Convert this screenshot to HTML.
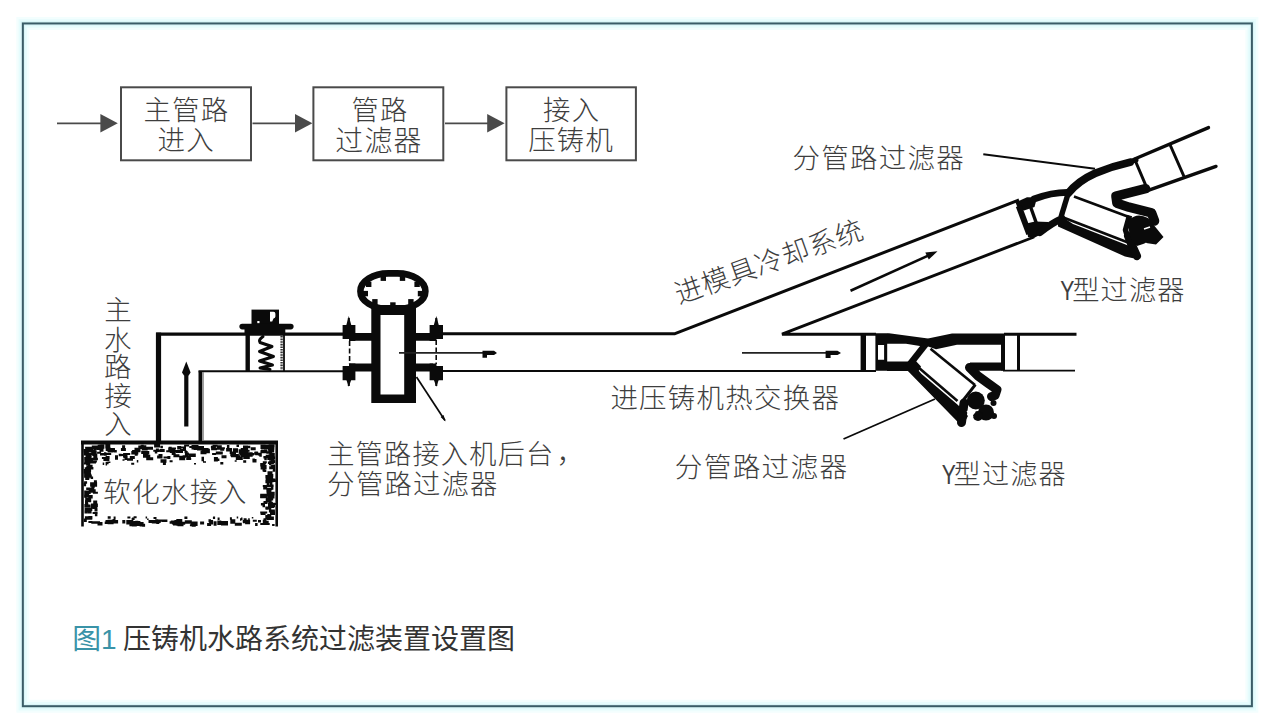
<!DOCTYPE html>
<html lang="zh"><head><meta charset="utf-8"><title>图1 压铸机水路系统过滤装置设置图</title>
<style>
html,body{margin:0;padding:0;background:#fff}
body{width:1280px;height:724px;overflow:hidden;position:relative;font-family:"Liberation Sans","Noto Sans CJK SC",sans-serif}
svg{position:absolute;left:0;top:0;display:block}
svg text{font-family:"Liberation Sans","Noto Sans CJK SC",sans-serif}
.lb{fill:#3e3e3e;font-weight:300}
</style></head><body>
<svg width="1280" height="724" viewBox="0 0 1280 724">
<rect width="1280" height="724" fill="#fff"/>
<rect x="22.85" y="23.45" width="1229.05" height="682.75" fill="none" stroke="#f3fefe" stroke-width="13"/>
<rect x="22.85" y="23.45" width="1229.05" height="682.75" fill="none" stroke="#e6fcfd" stroke-width="8.5"/>
<rect x="22.85" y="23.45" width="1229.05" height="682.75" fill="none" stroke="#d9f5f7" stroke-width="4.5"/>
<rect x="22.85" y="23.45" width="1229.05" height="682.75" fill="none" stroke="#3a5c67" stroke-width="2"/>
<rect x="121" y="87.3" width="130.0" height="73" fill="none" stroke="#4a4a4a" stroke-width="2"/>
<rect x="313.4" y="87.3" width="129.9" height="73" fill="none" stroke="#4a4a4a" stroke-width="2"/>
<rect x="506.4" y="87.3" width="129.5" height="73" fill="none" stroke="#4a4a4a" stroke-width="2"/>
<path d="M57 123.3H103.8" stroke="#4a4a4a" stroke-width="1.8" fill="none"/>
<path d="M117.8 123.3L100.4 114V132.6Z" fill="#4a4a4a"/>
<path d="M252.5 123.3H298.4" stroke="#4a4a4a" stroke-width="1.8" fill="none"/>
<path d="M312.4 123.3L295.0 114V132.6Z" fill="#4a4a4a"/>
<path d="M445 123.3H490.6" stroke="#4a4a4a" stroke-width="1.8" fill="none"/>
<path d="M504.6 123.3L487.20000000000005 114V132.6Z" fill="#4a4a4a"/>
<path d="M81 442.5H278" stroke="#0a0a0a" stroke-width="4" fill="none"/>
<path d="M82.5 441V526.5M276.7 441V526.5" stroke="#0a0a0a" stroke-width="2.6" fill="none"/>
<path d="M243.4 449.9h5v4.5h-5zM243.0 445.4h5v4.5h-5zM200.5 450.7h6v3.5h-6zM141.2 444.8h2.5v3.5h-2.5zM193.6 448.0h7v2h-7zM204.9 448.7h5v4.5h-5zM95.0 445.9h6v2h-6zM89.7 447.5h3v4.5h-3zM240.7 447.9h5v4.5h-5zM176.0 450.0h7v3h-7zM159.7 449.0h5v3h-5zM143.4 446.1h2.5v3h-2.5zM97.1 451.7h4v2h-4zM241.5 447.9h5v2h-5zM124.2 453.3h2.5v2h-2.5zM154.8 450.0h2.5v3.5h-2.5zM189.3 446.0h5v2h-5zM146.0 446.8h7v3h-7zM226.9 445.0h2.5v3.5h-2.5zM86.1 448.6h3v2h-3zM210.9 445.8h5v2.5h-5zM266.3 451.3h6v2.5h-6zM105.7 447.6h5v3.5h-5zM134.7 453.7h3v2h-3zM268.6 444.2h6v3h-6zM271.2 449.1h3v3.5h-3zM91.8 445.5h6v2h-6zM85.8 449.5h5v3h-5zM97.7 444.8h4v3.5h-4zM86.9 447.5h6v2.5h-6zM107.5 449.0h6v3.5h-6zM244.3 445.7h6v2.5h-6zM254.8 451.4h3v3h-3zM113.8 450.0h3v2.5h-3zM211.1 447.7h6v2.5h-6zM98.6 444.4h5v4.5h-5zM180.6 446.6h2.5v2h-2.5zM131.3 451.0h7v3.5h-7zM138.3 445.5h6v3.5h-6zM107.3 448.8h7v2h-7zM197.0 446.1h7v4.5h-7zM97.0 448.1h3v2h-3zM92.8 446.8h3v2h-3zM264.0 444.7h6v4.5h-6zM268.3 449.6h3v3.5h-3zM191.5 445.1h7v4.5h-7zM173.5 447.6h2.5v2h-2.5zM88.0 450.4h4v2h-4zM219.9 447.2h5v2h-5zM169.4 447.7h2.5v2h-2.5zM233.5 452.7h2.5v2.5h-2.5zM212.1 453.0h4v2h-4zM244.6 449.7h5v2h-5zM154.1 444.1h6v3.5h-6zM101.1 445.2h2.5v2h-2.5zM220.2 447.3h4v3.5h-4zM168.2 447.5h7v4.5h-7zM180.0 449.1h6v2h-6zM100.4 444.2h4v4.5h-4zM175.5 450.1h7v2h-7zM250.7 447.3h5v3h-5zM122.1 445.3h3v4.5h-3zM177.2 446.1h4v3.5h-4zM120.9 447.9h5v3h-5zM156.3 449.5h3v2.5h-3zM109.5 448.7h4v2.5h-4zM263.1 446.8h2.5v2h-2.5zM168.7 446.8h3v2h-3zM155.9 448.4h3v3.5h-3zM215.8 451.6h7v3h-7zM143.3 451.0h6v3.5h-6zM91.8 449.3h4v4.5h-4zM141.2 451.1h6v3h-6zM160.4 445.8h2.5v2.5h-2.5zM229.7 451.6h4v2.5h-4zM166.2 450.3h7v2h-7zM260.4 450.2h7v3h-7zM132.1 450.1h3v3.5h-3zM216.8 445.3h5v4.5h-5zM184.9 452.5h4v3h-4zM268.4 445.2h6v4.5h-6zM100.0 452.9h7v2.5h-7zM107.9 447.9h7v3.5h-7zM153.3 449.7h7v2h-7zM169.8 449.9h6v3h-6zM219.7 452.2h3v2h-3zM123.2 453.0h7v2h-7zM185.2 451.1h2.5v3h-2.5zM254.2 451.7h4v3h-4zM99.5 447.3h4v4.5h-4zM226.1 448.1h6v3.5h-6zM236.5 444.6h2.5v2.5h-2.5zM184.5 450.5h2.5v2.5h-2.5zM112.0 448.4h3v3.5h-3zM238.6 449.2h7v4.5h-7zM260.5 444.6h5v4.5h-5zM183.0 446.5h3v3.5h-3zM201.6 447.9h7v4.5h-7zM141.7 447.4h6v3h-6zM140.3 445.3h6v2.5h-6zM134.5 447.7h6v4.5h-6zM105.3 444.0h5v4.5h-5zM184.1 444.4h5v2h-5zM233.0 448.2h5v4.5h-5zM212.5 444.7h5v2h-5zM160.5 459.2h6v3.5h-6zM129.8 455.9h5v3h-5zM252.5 459.0h4v3.5h-4zM143.0 453.2h5v4.5h-5zM255.2 453.2h6v2h-6zM120.6 454.0h2.5v2h-2.5zM143.3 454.8h7v3h-7zM103.4 457.5h6v3.5h-6zM201.5 456.7h2.5v4.5h-2.5zM245.7 452.2h7v4.5h-7zM235.8 456.6h7v3.5h-7zM243.8 456.5h6v2.5h-6zM124.6 455.5h3v4.5h-3zM127.0 458.3h6v2.5h-6zM143.1 454.7h4v2.5h-4zM230.3 453.7h3v2.5h-3zM251.6 453.1h2.5v2.5h-2.5zM157.1 455.5h2.5v3h-2.5zM230.9 452.8h5v4.5h-5zM101.9 457.1h5v2h-5zM105.6 456.0h4v3h-4zM270.7 457.4h4v4.5h-4zM104.0 452.3h2.5v3.5h-2.5zM179.2 455.7h6v4.5h-6zM118.7 453.7h3v2.5h-3zM258.3 452.8h3v3h-3zM263.4 455.9h2.5v2.5h-2.5zM157.7 455.4h2.5v3h-2.5zM123.3 454.8h4v3.5h-4zM239.3 453.6h7v2h-7zM221.5 455.2h5v3h-5zM115.0 455.3h3v4.5h-3zM252.4 458.4h2.5v3h-2.5zM188.8 453.4h7v3.5h-7zM232.9 454.1h6v3h-6zM237.6 455.4h2.5v2.5h-2.5zM213.9 457.0h4v4.5h-4zM122.9 453.4h3v3.5h-3zM171.7 452.1h4v3h-4zM93.3 453.8h4v4.5h-4zM146.2 457.3h7v3h-7zM182.6 455.3h6v2.5h-6zM214.4 458.5h5v2.5h-5zM105.2 453.0h6v2h-6zM167.4 456.0h3v3h-3zM86.0 453.9h3v3.5h-3zM186.9 456.1h4v3h-4zM240.6 452.6h6v4.5h-6zM186.2 458.0h5v2h-5zM259.3 453.2h2.5v3.5h-2.5zM243.2 456.6h5v2.5h-5zM163.5 456.5h6v2h-6zM158.5 454.0h4v4.5h-4zM173.4 454.2h6v3h-6zM89.0 458.2h4v3h-4zM203.0 461.2h3v1.5h-3zM93.9 460.6h3v2h-3zM194.0 463.0h2v1.5h-2zM234.7 460.2h2v1.5h-2zM131.2 462.8h3v2h-3zM102.7 462.6h1.5v2.5h-1.5zM269.0 463.5h2v1.5h-2zM105.6 461.8h3v2.5h-3zM122.5 459.3h2v1.5h-2zM107.4 461.4h3v1.5h-3zM169.6 460.3h3v2h-3zM162.9 462.5h3v2.5h-3zM263.1 463.0h3v1.5h-3zM105.6 463.5h1.5v2h-1.5zM243.2 460.2h3v2.5h-3zM220.3 462.1h3v2.5h-3zM136.8 460.1h1.5v2.5h-1.5zM269.7 463.1h1.5v2.5h-1.5zM85.1 446.7h7v2h-7zM83.6 448.9h4v3.5h-4zM85.3 503.1h3v4.5h-3zM84.9 494.9h7v2.5h-7zM86.1 462.1h4v3.5h-4zM87.6 510.1h4v3.5h-4zM86.6 510.1h2.5v2h-2.5zM86.3 465.7h3v3.5h-3zM84.5 510.4h3v3h-3zM84.5 504.4h6v3h-6zM87.7 490.4h3v3.5h-3zM83.9 452.4h5v3h-5zM85.2 497.7h6v4.5h-6zM83.9 462.6h4v2h-4zM83.7 468.9h7v4.5h-7zM84.2 457.0h7v3h-7zM85.5 455.0h4v3h-4zM84.9 516.3h7v3.5h-7zM84.6 507.8h7v3h-7zM85.2 476.6h4v3.5h-4zM84.1 473.3h7v4.5h-7zM85.5 476.9h4v2h-4zM86.8 474.5h5v2.5h-5zM84.2 490.6h5v4.5h-5zM84.1 481.2h3v2.5h-3zM84.7 450.5h4v2h-4zM85.4 447.7h3v4.5h-3zM86.1 469.8h5v2h-5zM84.7 467.3h6v2h-6zM84.1 494.8h2.5v3h-2.5zM88.3 496.6h3v2h-3zM86.7 516.3h3v2.5h-3zM85.7 471.8h4v3.5h-4zM86.2 487.6h4v2.5h-4zM85.3 517.4h7v2h-7zM87.3 508.1h5v3h-5zM90.2 495.0h2.5v3.5h-2.5zM86.0 507.8h6v3h-6zM87.6 464.8h5v3.5h-5zM87.9 470.5h3v3.5h-3zM85.9 467.0h5v3.5h-5zM85.7 454.8h2.5v3.5h-2.5zM85.4 459.9h7v2.5h-7zM83.6 482.8h2.5v3.5h-2.5zM84.3 460.2h2.5v3h-2.5zM85.0 500.2h3v4.5h-3zM84.3 460.0h6v4.5h-6zM84.4 503.9h4v3.5h-4zM88.7 487.6h4v4.5h-4zM88.4 515.9h4v3.5h-4zM87.7 453.0h4v4.5h-4zM83.8 518.5h3v3.5h-3zM92.4 504.4h5v4.5h-5zM94.9 513.7h2.5v2.5h-2.5zM93.2 500.6h4v3.5h-4zM90.8 505.8h6v2.5h-6zM94.5 508.4h3v3h-3zM91.3 486.4h3v4.5h-3zM93.9 446.1h3v4.5h-3zM90.4 466.9h3v2.5h-3zM90.1 482.2h7v4.5h-7zM92.9 491.8h5v2h-5zM90.0 460.5h6v3h-6zM93.9 480.3h3v2h-3zM92.3 483.3h2.5v4.5h-2.5zM91.2 451.9h4v3h-4zM92.7 451.1h4v3.5h-4zM90.6 476.6h2.5v2.5h-2.5zM92.0 447.0h5v2h-5zM90.7 489.2h5v3.5h-5zM92.6 511.9h5v2h-5zM90.9 457.8h7v2.5h-7zM90.9 503.4h7v3.5h-7zM92.2 452.6h4v3.5h-4zM268.0 454.5h3v2.5h-3zM268.9 501.7h4v3h-4zM270.8 453.1h4v3.5h-4zM265.8 497.2h3v4.5h-3zM265.7 477.2h7v2.5h-7zM269.2 453.6h5v4.5h-5zM273.4 479.6h2.5v2.5h-2.5zM272.8 478.9h2.5v3h-2.5zM268.2 505.4h6v2.5h-6zM266.9 516.5h7v3.5h-7zM268.6 493.8h6v2h-6zM269.6 493.2h4v2.5h-4zM267.8 472.4h2.5v3h-2.5zM265.4 474.9h7v3.5h-7zM268.9 509.5h6v3h-6zM266.3 487.8h6v2.5h-6zM266.6 492.2h4v4.5h-4zM267.9 461.4h6v2.5h-6zM267.8 448.1h6v2.5h-6zM268.1 456.6h7v2.5h-7zM267.5 471.2h5v4.5h-5zM267.3 514.0h2.5v3h-2.5zM266.4 490.1h5v2.5h-5zM265.3 515.1h6v4.5h-6zM269.8 455.4h3v3h-3zM270.8 474.0h2.5v3h-2.5zM269.2 460.3h6v3h-6zM267.3 477.5h6v2h-6zM266.2 498.0h7v2.5h-7zM267.5 495.0h7v3.5h-7zM266.7 482.3h2.5v2.5h-2.5zM268.1 489.0h3v4.5h-3zM269.2 466.3h3v3h-3zM265.3 506.4h6v3h-6zM266.6 484.6h7v2.5h-7zM267.9 514.6h2.5v3.5h-2.5zM268.0 502.8h7v4.5h-7zM270.0 511.4h5v3.5h-5zM265.7 454.8h5v3.5h-5zM267.6 479.3h6v3h-6zM272.7 468.8h2.5v3h-2.5zM268.7 491.7h6v3.5h-6zM271.1 464.4h4v4.5h-4zM268.0 476.7h5v2.5h-5zM270.9 486.3h2.5v3.5h-2.5zM267.5 475.9h3v4.5h-3zM273.0 503.0h3v2h-3zM268.5 478.4h7v3h-7zM270.2 478.7h3v2.5h-3zM265.8 507.8h2.5v2h-2.5zM269.9 480.2h2.5v4.5h-2.5zM270.1 447.9h4v2.5h-4zM268.5 481.1h3v2h-3zM265.7 499.0h6v3.5h-6zM267.4 481.5h3v2h-3zM267.3 457.0h4v3h-4zM260.6 512.6h5v2.5h-5zM260.2 511.4h7v2h-7zM260.1 494.6h4v3.5h-4zM260.2 493.7h7v4.5h-7zM263.3 469.9h3v2h-3zM263.5 500.9h4v3h-4zM263.5 518.2h3v3h-3zM260.2 463.1h5v3.5h-5zM262.8 461.3h4v2h-4zM262.5 468.9h3v2.5h-3zM263.2 486.4h4v3h-4zM262.8 519.8h2.5v4.5h-2.5zM261.4 495.6h3v2.5h-3zM265.4 479.7h2.5v3.5h-2.5zM261.1 449.5h6v2h-6zM260.6 464.9h6v4.5h-6zM260.3 523.1h6v2h-6zM260.9 502.9h3v2.5h-3zM264.3 457.7h2.5v2.5h-2.5zM262.5 502.7h2.5v4.5h-2.5zM262.8 485.0h5v2h-5zM262.8 496.3h3v2h-3zM207.1 522.9h4v3h-4zM177.5 523.2h6v3h-6zM221.0 520.9h7v4.5h-7zM104.7 521.4h6v2.5h-6zM184.8 520.2h7v3.5h-7zM131.8 522.0h7v2.5h-7zM176.3 519.1h6v4.5h-6zM189.9 524.2h6v2h-6zM112.5 519.1h3v3h-3zM177.7 522.3h5v3.5h-5zM105.5 520.1h2.5v2h-2.5zM190.6 521.5h7v4.5h-7zM94.0 521.3h6v2.5h-6zM234.8 522.7h7v3h-7zM177.2 521.3h4v4.5h-4zM154.1 520.4h6v2.5h-6zM230.3 519.2h5v4.5h-5zM151.8 520.0h5v3.5h-5zM176.3 523.2h2.5v2.5h-2.5zM224.0 521.9h3v2.5h-3zM129.4 524.3h2.5v2h-2.5zM157.9 520.8h3v2h-3zM264.7 523.1h5v2h-5zM126.3 519.9h7v4.5h-7zM161.4 519.5h6v2.5h-6zM142.1 523.7h3v3h-3zM91.3 521.2h6v2.5h-6zM219.7 522.4h7v2h-7zM169.6 521.2h6v2.5h-6zM155.2 519.2h3v3.5h-3zM129.8 523.0h5v3h-5zM122.3 520.0h3v3.5h-3zM171.9 521.5h5v3h-5zM242.7 520.1h7v2.5h-7zM97.5 522.1h5v3.5h-5zM200.1 521.6h4v3h-4zM178.2 521.8h7v3h-7zM133.4 521.0h7v2.5h-7zM109.8 520.2h3v3h-3zM272.1 524.0h2.5v2h-2.5zM242.9 521.3h5v2h-5zM209.1 520.1h4v4.5h-4zM174.4 520.0h6v2.5h-6zM107.6 519.7h6v4.5h-6zM173.0 522.1h5v3.5h-5zM132.2 521.5h6v4.5h-6zM111.1 519.9h7v3.5h-7zM217.3 520.4h4v4.5h-4zM245.1 519.8h5v4.5h-5zM148.5 520.1h4v3h-4zM224.8 521.9h2.5v2h-2.5zM208.5 519.3h2.5v3h-2.5zM213.6 521.3h3v4.5h-3zM230.5 520.4h4v2.5h-4zM157.0 519.4h5v2h-5zM136.9 522.5h5v3h-5zM258.0 520.1h3v2.5h-3zM209.1 520.2h3v3h-3zM255.1 523.0h2.5v3h-2.5zM131.8 522.0h5v4.5h-5zM252.8 519.7h4v2h-4zM135.3 520.7h2.5v3.5h-2.5zM170.8 520.6h6v3h-6zM88.4 521.1h4v2h-4zM139.6 521.9h4v4.5h-4zM156.3 520.5h3v3.5h-3zM191.7 524.7h4v2h-4zM201.0 521.5h2.5v2h-2.5zM135.4 524.0h5v2h-5zM263.7 520.7h5v3.5h-5zM135.3 520.7h3v4.5h-3zM111.9 520.2h5v2h-5zM212.9 516.7h1.5v2h-1.5zM269.7 516.0h1.5v2.5h-1.5zM243.6 518.3h3v2h-3zM240.0 518.2h1.5v2.5h-1.5zM133.6 516.3h3v2h-3zM236.7 516.6h1.5v2h-1.5zM113.6 516.5h2v2.5h-2zM147.1 518.4h1.5v1.5h-1.5zM153.5 516.9h3v2h-3zM184.4 516.6h3v2.5h-3zM145.6 516.5h1.5v2h-1.5zM107.7 516.2h3v2.5h-3zM251.8 517.1h1.5v1.5h-1.5zM229.9 517.2h2v2.5h-2zM248.2 518.2h1.5v2.5h-1.5zM132.1 517.5h1.5v2h-1.5zM131.6 517.9h3v2h-3zM213.1 516.5h2v2.5h-2zM241.0 517.4h1.5v2.5h-1.5zM217.6 517.6h2v2.5h-2zM107.7 517.3h2v1.5h-2zM127.4 516.6h3v2h-3z" fill="#0a0a0a"/>
<path d="M158.5 441V332.6" stroke="#0a0a0a" stroke-width="5.2" fill="none"/>
<path d="M156.1 334.1H349" stroke="#0a0a0a" stroke-width="3.1" fill="none"/>
<path d="M200.3 441V371.3" stroke="#0a0a0a" stroke-width="3.6" fill="none"/>
<path d="M198.5 371.3H349" stroke="#0a0a0a" stroke-width="2" fill="none"/>
<path d="M203 372V441" stroke="#777" stroke-width="1.4" fill="none"/>
<path d="M186.3 426.5V370" stroke="#0a0a0a" stroke-width="4.2" fill="none"/>
<path d="M186.3 361.5L190.6 372.5L188.6 375.5H184L182 372.5Z" fill="#0a0a0a"/>
<path d="M251.5 309.6H279V324H251.5Z" fill="#0a0a0a"/>
<path d="M270 311.8H273.5Q275.4 311.8 275.4 313.8V316.5Q275.4 318 273.5 318.5L272.2 321.5H270Z" fill="#fff"/>
<rect x="257.3" y="321" width="2.2" height="2.2" fill="#fff"/>
<rect x="239.4" y="323.8" width="54.2" height="5.6" rx="2.8" fill="#0a0a0a"/>
<rect x="244.5" y="328" width="40.8" height="5" fill="#0a0a0a"/>
<path d="M247.7 329V371" stroke="#0a0a0a" stroke-width="4.4" fill="none"/>
<path d="M284 333V371" stroke="#0a0a0a" stroke-width="1.8" fill="none"/>
<path d="M281.6 336V370" stroke="#333" stroke-width="2.4" stroke-dasharray="1.6 1" fill="none"/>
<path d="M263 336.5Q258 340 260 342.5L272 346.5L259.5 351.5L273.5 356.5L259.5 361L272.5 365L260 368L270 369.5" stroke="#0a0a0a" stroke-width="3" fill="none" stroke-linejoin="round" stroke-linecap="round"/>
<rect x="360.4" y="273.4" width="65" height="35.6" rx="28" ry="17.8" fill="none" stroke="#0a0a0a" stroke-width="6.6"/>
<rect x="417.8" y="290.9" width="5.4" height="5.4" fill="#0a0a0a"/><rect x="408.2" y="299.1" width="5.4" height="5.4" fill="#0a0a0a"/><rect x="390.2" y="302.3" width="5.4" height="5.4" fill="#0a0a0a"/><rect x="372.2" y="299.1" width="5.4" height="5.4" fill="#0a0a0a"/><rect x="362.6" y="290.9" width="5.4" height="5.4" fill="#0a0a0a"/><rect x="366.0" y="281.6" width="5.4" height="5.4" fill="#0a0a0a"/><rect x="380.6" y="275.5" width="5.4" height="5.4" fill="#0a0a0a"/><rect x="399.8" y="275.5" width="5.4" height="5.4" fill="#0a0a0a"/><rect x="414.4" y="281.6" width="5.4" height="5.4" fill="#0a0a0a"/>
<path d="M371.3 305H416V403H371.3Z M380.5 315H404.2V394.6H380.5Z" fill="#0a0a0a" fill-rule="evenodd"/>
<path d="M350 333H372V340.7H350Z M350 363.5H372V371.6H350Z M415 333H433V340.7H415Z M415 363.5H433V371.6H415Z" fill="#0a0a0a"/>
<path d="M342.6 325H355.4V341H349V339H342.6Z M342.6 380.3H355.4V363.5H349V366H342.6Z" fill="#0a0a0a"/>
<path d="M348.8 316L351.4 325.5H346.2Z M348.8 386.8L351.4 379.5H346.2Z" fill="#0a0a0a"/>
<path d="M348.8 318V326M348.8 379V386" stroke="#0a0a0a" stroke-width="2" fill="none"/>
<path d="M349.6 341V364" stroke="#0a0a0a" stroke-width="1.6" stroke-dasharray="5 2.5" fill="none"/>
<path d="M443 325H429.6V341H436.5V339H443Z M443 380.3H429.6V363.5H436.5V366H443Z" fill="#0a0a0a"/>
<path d="M436.3 316L438.9 325.5H433.7Z M436.3 386.8L438.9 379.5H433.7Z" fill="#0a0a0a"/>
<path d="M436.3 318V326M436.3 379V386" stroke="#0a0a0a" stroke-width="2" fill="none"/>
<path d="M436.2 340V364" stroke="#0a0a0a" stroke-width="1.6" stroke-dasharray="5 2.5" fill="none"/>
<path d="M416.5 377L445 420.5" stroke="#0a0a0a" stroke-width="1.7" fill="none"/>
<path d="M445.6 421.5L440.6 417L443.6 415Z" fill="#0a0a0a"/>
<path d="M442 333.7H675L1019 200" stroke="#0a0a0a" stroke-width="3" fill="none" stroke-linejoin="round"/>
<path d="M442 371H876M1003 370.6H1075" stroke="#0a0a0a" stroke-width="1.8" fill="none"/>
<path d="M399 352.9H490" stroke="#222" stroke-width="1.8" fill="none"/>
<path d="M482.5 350.7H494L497 352.9L494 355H487V357.8H482.5Z" fill="#0a0a0a"/>
<path d="M1034 237L782 334.2H876M1004 334.2H1076.5" stroke="#0a0a0a" stroke-width="2.9" fill="none" stroke-linejoin="miter"/>
<path d="M742 352.9H834" stroke="#222" stroke-width="1.8" fill="none"/>
<path d="M825.6 350.7H837.5L841 352.9L837.5 355H830.6V358H825.6Z" fill="#0a0a0a"/>
<path d="M850.5 290.8L931 254.4" stroke="#0a0a0a" stroke-width="2.6" fill="none"/>
<path d="M937.5 251.3L925.3 252.6L928.8 259.6Z" fill="#0a0a0a"/>
<path d="M863.3 334V371" stroke="#0a0a0a" stroke-width="5.4" fill="none"/>
<path d="M1018.5 334V371" stroke="#0a0a0a" stroke-width="3" fill="none"/>
<path d="M875.4 333.2H887.2V370.8H875.4Z M878 344.9H884.1V359.8H878Z" fill="#0a0a0a" fill-rule="evenodd"/>
<path d="M887 333.2H889L928 338.4L934 344L921.4 346.3L906 343.7H887Z" fill="#0a0a0a"/>
<path d="M887 361.5H910L914 371H887Z" fill="#0a0a0a"/>
<path d="M928 338.4L952 333.5H1005V370.6H1001V344.8H957L936 349.2L924 345Z" fill="#0a0a0a"/>
<path d="M908.5 366L927 342.5" stroke="#0a0a0a" stroke-width="6.6" fill="none"/>
<path d="M1004 366.7H970" stroke="#0a0a0a" stroke-width="8.2" fill="none"/>
<path d="M969.5 367.5L978 376L989 384L997 389.6L995 395.5L991.5 396.5" stroke="#0a0a0a" stroke-width="9" fill="none" stroke-linejoin="round" stroke-linecap="round"/>
<path d="M930.5 348.8L975 385" stroke="#0a0a0a" stroke-width="2.6" fill="none"/>
<path d="M903 366L962.2 426.5L968 416L958 405L921.3 373.7L913 364Z" fill="#0a0a0a"/>
<path d="M913 362.8L957.5 401" stroke="#0a0a0a" stroke-width="2.6" fill="none"/>
<path d="M905 364L914 359L921 366.5L918 372L911 372Z" fill="#0a0a0a"/>
<path d="M975.4 384.6L962.6 401" stroke="#0a0a0a" stroke-width="3" fill="none"/>
<path d="M964 403L961.5 422.5" stroke="#0a0a0a" stroke-width="9" fill="none" stroke-linecap="round"/>
<circle cx="975.8" cy="400.5" r="9" fill="#0a0a0a"/><circle cx="986" cy="412.5" r="8" fill="#0a0a0a"/><circle cx="978" cy="416" r="5" fill="#0a0a0a"/><circle cx="993.5" cy="403" r="3" fill="#0a0a0a"/><circle cx="994" cy="416" r="3" fill="#0a0a0a"/>
<path d="M967 411L973 417M970 417L975 412" stroke="#fff" stroke-width="1.4" fill="none"/>
<path d="M935 399L843.5 439" stroke="#0a0a0a" stroke-width="1.8" fill="none"/>
<path d="M983.3 154.2L1095 168.8" stroke="#0a0a0a" stroke-width="2" fill="none"/>
<path d="M1015.5 202.5L1027 197.3L1037 197.6L1034.5 207L1024 210.5L1018 208.5Z" fill="#0a0a0a"/>
<path d="M1018.7 206L1029.2 234" stroke="#0a0a0a" stroke-width="6" fill="none"/>
<path d="M1030.8 207.5L1036.3 223" stroke="#0a0a0a" stroke-width="3.4" fill="none"/>
<path d="M1026.5 223.5L1035 221.5L1048.5 222L1045 232L1034 238L1028 237Z" fill="#0a0a0a"/>
<path d="M1034 199Q1052 192 1069 192.3" stroke="#0a0a0a" stroke-width="6.8" fill="none" stroke-linecap="round"/>
<path d="M1068 193.5Q1078 181 1095 173.4Q1112 166.3 1130 162.3" stroke="#0a0a0a" stroke-width="7.8" fill="none" stroke-linecap="round"/>
<path d="M1120 164.5L1136 160" stroke="#0a0a0a" stroke-width="5" fill="none" stroke-linecap="round"/>
<path d="M1040 232.5Q1052 223 1062 218.5" stroke="#0a0a0a" stroke-width="7" fill="none" stroke-linecap="round"/>
<path d="M1068 194L1061 217" stroke="#0a0a0a" stroke-width="5.4" fill="none"/>
<path d="M1074 196.5L1129 217" stroke="#0a0a0a" stroke-width="2.6" fill="none"/>
<path d="M1062 217L1128 242.5" stroke="#0a0a0a" stroke-width="2.8" fill="none"/>
<path d="M1058 218.5L1064 218L1073 224L1132 247L1139 259.5L1125 256.5L1058 226.5Z" fill="#0a0a0a"/>
<path d="M1129.5 215.5L1125.5 230L1131 248" stroke="#0a0a0a" stroke-width="5.5" fill="none" stroke-linejoin="round"/>
<path d="M1128 236L1137 256" stroke="#0a0a0a" stroke-width="8" fill="none" stroke-linecap="round"/>
<path d="M1145.5 188.7L1116 196.2L1117 203.2L1129 207.2L1151.5 212.8L1154.5 221" stroke="#0a0a0a" stroke-width="9.6" fill="none" stroke-linejoin="round" stroke-linecap="round"/>
<path d="M1129 220Q1137 212 1148 218L1157 229L1163.5 237L1156 244.5L1146 243L1137 246Q1127 238 1129 220Z" fill="#0a0a0a"/>
<path d="M1140 249L1146.5 243M1144 229L1150 227" stroke="#fff" stroke-width="1.5" fill="none"/>
<path d="M1134 159.2L1208.5 127.6" stroke="#0a0a0a" stroke-width="3.4" fill="none" stroke-linecap="round"/>
<path d="M1147.5 190.6L1216 166.4" stroke="#0a0a0a" stroke-width="3.4" fill="none" stroke-linecap="round"/>
<path d="M1135.2 160.5L1148 190.6M1169.5 143.5L1184 176.5" stroke="#0a0a0a" stroke-width="3" fill="none"/>
<text class="lb" x="143.38" y="119.99" font-size="27.5" letter-spacing="1.24">主管路</text>
<text class="lb" x="157.48" y="150.28" font-size="27.5" letter-spacing="1.24">进入</text>
<text class="lb" x="351.48" y="119.89" font-size="27.3" letter-spacing="1.23">管路</text>
<text class="lb" x="335.29" y="150.55" font-size="27.9" letter-spacing="1.25">过滤器</text>
<text class="lb" x="543.12" y="119.88" font-size="27.4" letter-spacing="1.23">接入</text>
<text class="lb" x="528.16" y="150.41" font-size="27.4" letter-spacing="1.23">压铸机</text>
<text class="lb" x="104.18" y="319.73" font-size="27.5">主</text>
<text class="lb" x="103.99" y="349.68" font-size="27.5">水</text>
<text class="lb" x="104.11" y="377.38" font-size="27.5">路</text>
<text class="lb" x="104.39" y="406.21" font-size="27.5">接</text>
<text class="lb" x="104.22" y="434.09" font-size="27.5">入</text>
<text class="lb" x="103.10" y="502.49" font-size="27.7" letter-spacing="1.25">软化水接入</text>
<text class="lb" x="327.14" y="464.03" font-size="27.2" letter-spacing="1.23">主管路接入机后台</text>
<text class="lb" x="556.61" y="462.82" font-size="28.5">，</text>
<text class="lb" x="327.36" y="494.06" font-size="27.3" letter-spacing="1.23">分管路过滤器</text>
<text class="lb" x="792.60" y="167.65" font-size="27.5" letter-spacing="1.24">分管路过滤器</text>
<text class="lb" x="669.90" y="271.76" font-size="27.5" letter-spacing="0.82" transform="rotate(-19.6,768.6,261.3)">进模具冷却系统</text>
<text class="lb" font-size="27.2" transform="translate(1060.26,300.28) scale(0.78,1)">Y</text>
<text class="lb" x="1072.15" y="300.28" font-size="27.2" letter-spacing="1.22">型过滤器</text>
<text class="lb" x="610.38" y="407.82" font-size="27.5" letter-spacing="1.24">进压铸机热交换器</text>
<text class="lb" x="674.79" y="477.20" font-size="27.7" letter-spacing="1.25">分管路过滤器</text>
<text class="lb" font-size="27.1" transform="translate(941.76,484.27) scale(0.78,1)">Y</text>
<text class="lb" x="953.60" y="484.27" font-size="27.1" letter-spacing="1.22">型过滤器</text>
<text x="72.17" y="649.06" font-size="28.9" fill="#3a93a7">图</text>
<text x="101" y="649" font-size="28" fill="#3a93a7">1</text>
<text x="123.10" y="649.33" font-size="28" fill="#333">压铸机水路系统过滤装置设置图</text>
</svg>
</body></html>
